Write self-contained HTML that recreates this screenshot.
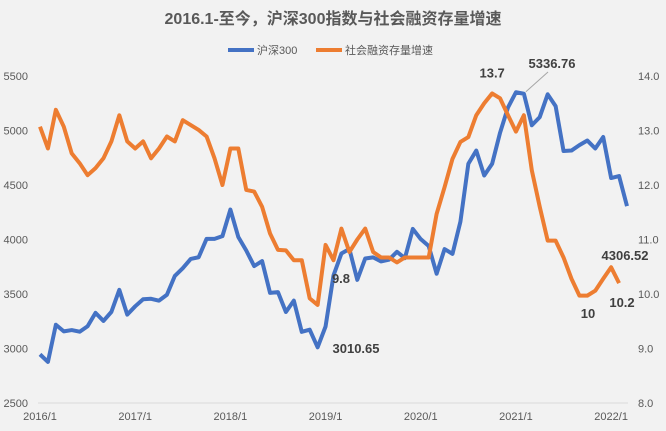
<!DOCTYPE html>
<html><head><meta charset="utf-8"><style>
body{margin:0;background:#f2f2f2;}
svg{display:block;font-family:"Liberation Sans","Noto Sans CJK SC",sans-serif;}
</style></head><body>
<svg width="666" height="431" id="c">
<rect width="666" height="431" fill="#f2f2f2"/>
<text x="333" y="24" text-anchor="middle" font-size="16" font-weight="bold" fill="#595959">2016.1-至今，沪深300指数与社会融资存量增速</text>
<g>
<line x1="228" y1="50" x2="254" y2="50" stroke="#4472c4" stroke-width="4"/>
<text x="257" y="54" font-size="11" fill="#595959">沪深300</text>
<line x1="316" y1="50" x2="342" y2="50" stroke="#ed7d31" stroke-width="4"/>
<text x="345" y="54" font-size="11" fill="#595959">社会融资存量增速</text>
</g>
<line x1="38" y1="403" x2="628" y2="403" stroke="#d9d9d9" stroke-width="1"/>
<g id="axes"></g>
<g id="marks"></g>
</svg>
<script>
const xLabels=["2016/1","2017/1","2018/1","2019/1","2020/1","2021/1","2022/1"];
const leftTicks=[2500,3000,3500,4000,4500,5000,5500];
const rightTicks=[8,9,10,11,12,13,14];
const csi300=[2946,2877,3218,3157,3169,3154,3204,3327,3253,3336,3538,3311,
3387,3452,3456,3439,3493,3666,3737,3822,3837,4006,4006,4031,
4275,4023,3899,3756,3802,3510,3517,3335,3439,3153,3173,3011,
3202,3670,3872,3913,3630,3826,3836,3799,3815,3887,3829,4097,
4003,3940,3686,3912,3868,4164,4695,4816,4587,4695,4980,5212,
5351,5337,5048,5123,5332,5224,4812,4816,4866,4908,4835,4940,
4564,4582,4306.52];
const tsf=[13.07,12.67,13.38,13.07,12.58,12.40,12.18,12.31,12.49,12.80,13.28,12.80,
12.67,12.80,12.49,12.67,12.89,12.80,13.19,13.10,13.01,12.89,12.49,12.0,
12.67,12.67,11.91,11.88,11.60,11.11,10.81,10.80,10.62,10.62,9.92,9.80,
10.9,10.62,11.2,10.77,11.0,11.2,10.77,10.67,10.67,10.58,10.67,10.67,
10.67,10.67,11.47,11.96,12.48,12.79,12.88,13.28,13.5,13.68,13.59,13.28,
12.98,13.28,12.27,11.6,10.98,10.98,10.67,10.28,9.97,9.97,10.06,10.28,
10.49,10.2];
const NS="http://www.w3.org/2000/svg";
const x0=40,dx=(627-40)/74,yb=403,yt=76;
const xs=i=>x0+i*dx;
const yL=v=>yb-(v-2500)/3000*(yb-yt);
const yR=v=>yb-(v-8)/6*(yb-yt);
const axes=document.getElementById('axes'),marks=document.getElementById('marks');
function mk(tag,attrs,parent,txt){const e=document.createElementNS(NS,tag);for(const k in attrs)e.setAttribute(k,attrs[k]);if(txt!==undefined)e.textContent=txt;parent.appendChild(e);return e;}
leftTicks.forEach(v=>{const t=mk('text',{x:28,y:yL(v)+4,'text-anchor':'end','font-size':11,fill:'#595959'},axes,String(v));

});
rightTicks.forEach(v=>{const t=mk('text',{x:638,y:yR(v)+4,'font-size':11,fill:'#595959'},axes,v.toFixed(1));

});
xLabels.forEach((l,i)=>{const t=mk('text',{x:Math.min(xs(i*12),612),y:420,'text-anchor':'middle','font-size':11,fill:'#595959'},axes,l);

});
const pb=mk('polyline',{points:csi300.map((v,i)=>xs(i)+','+yL(v)).join(' '),fill:'none',stroke:'#4472c4','stroke-width':4,'stroke-linejoin':'round'},marks);


const po=mk('polyline',{points:tsf.map((v,i)=>xs(i)+','+yR(v)).join(' '),fill:'none',stroke:'#ed7d31','stroke-width':4,'stroke-linejoin':'round'},marks);


const ld=mk('line',{x1:xs(61)+2,y1:yL(csi300[61])-2,x2:548,y2:72,stroke:'#a6a6a6','stroke-width':1},marks);


const labels=[[xs(57),yR(tsf[57])-16,'13.7'],[552,68,'5336.76'],[xs(74)-2,yR(0)+0,''],[625,260,'4306.52'],[622,307,'10.2'],[588,318,'10'],[341,283,'9.8'],[356,353,'3010.65']];
labels.forEach(l=>{if(!l[2])return;const t=mk('text',{x:l[0],y:l[1],'text-anchor':'middle','font-size':13,'font-weight':'bold',fill:'#404040'},marks,l[2]);

});
</script>
</body></html>
